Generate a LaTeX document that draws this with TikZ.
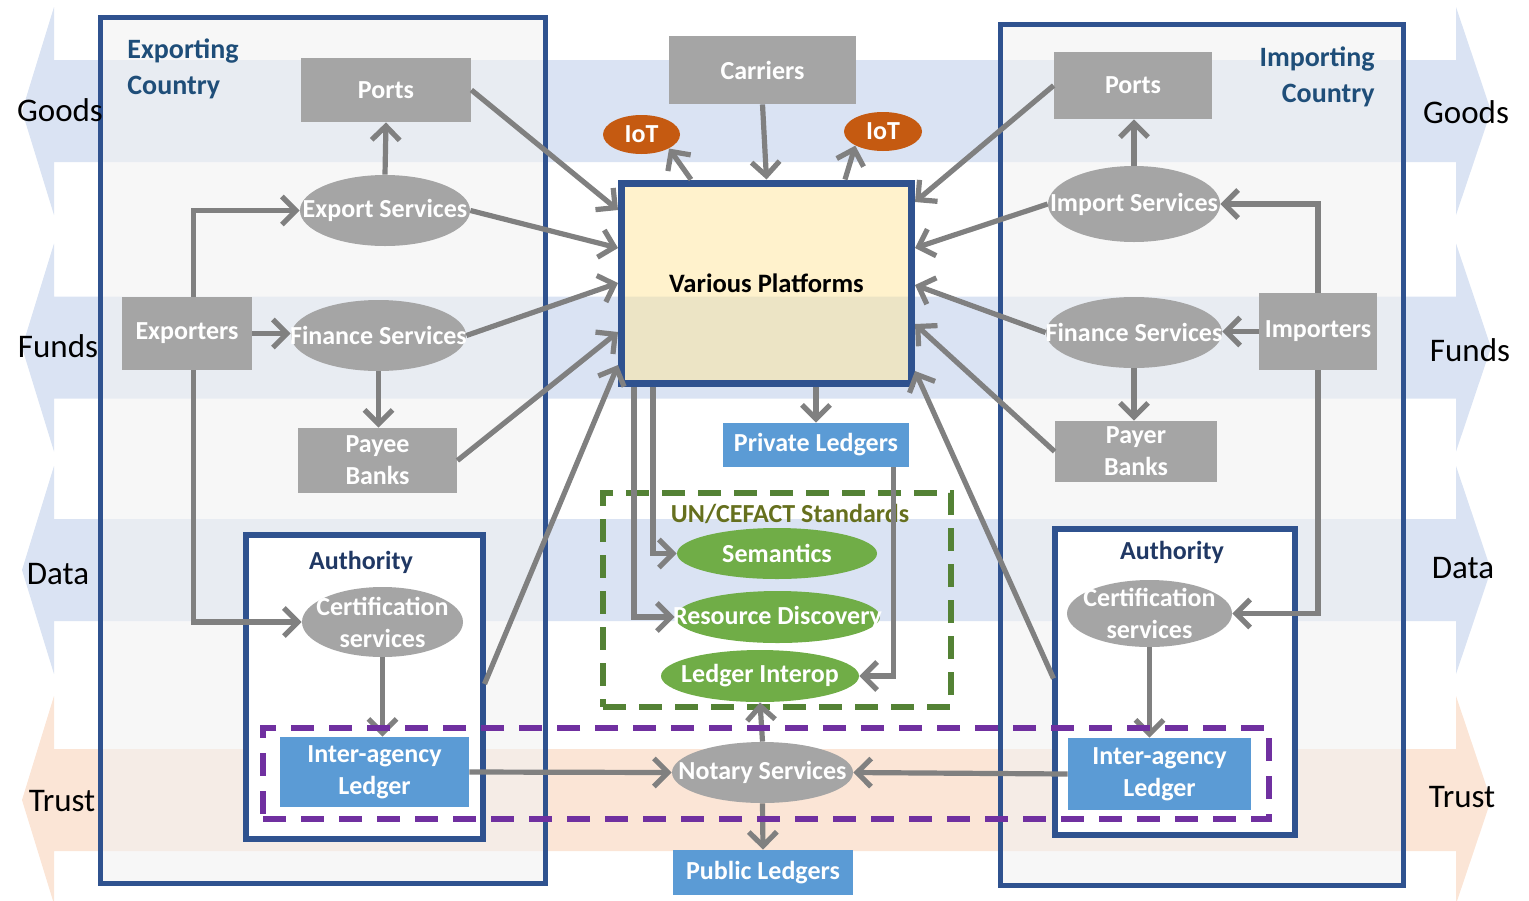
\documentclass[tikz,border=0pt]{standalone}
\usepackage{fontspec}
\setmainfont{Carlito}
\usetikzlibrary{arrows.meta,shapes.geometric,calc}
\definecolor{bandblue}{HTML}{DAE3F3}
\definecolor{bandpeach}{HTML}{FBE5D6}
\definecolor{boxblue}{HTML}{2F528F}
\definecolor{nodegray}{HTML}{A5A5A5}
\definecolor{arrgray}{HTML}{808080}
\definecolor{ledblue}{HTML}{5B9BD5}
\definecolor{stdgreen}{HTML}{70AD47}
\definecolor{dashgreen}{HTML}{548235}
\definecolor{dashpurple}{HTML}{7030A0}
\definecolor{iotorange}{HTML}{C55A11}
\definecolor{titleblue}{HTML}{1F4E79}
\definecolor{authblue}{HTML}{203864}
\definecolor{stdtext}{HTML}{66701E}
\definecolor{vpfill}{HTML}{FFE599}
\newcommand\bandarrow[2]{%
  \fill[#2] (54,#1-51) -- (54,#1-104) -- (22,#1) -- (54,#1+104) -- (54,#1+51)
    -- (1456,#1+51) -- (1456,#1+104) -- (1491,#1) -- (1456,#1-104) -- (1456,#1-51) -- cycle;}
\begin{document}
\begin{tikzpicture}[x=0.5pt,y=-0.5pt,
  wtxt/.style={text=white,font=\bfseries\fontsize{13}{16}\selectfont,align=center,inner sep=0pt},
  grect/.style={rectangle,fill=nodegray,wtxt},
  brect/.style={rectangle,fill=ledblue,wtxt},
  gell/.style={ellipse,fill=nodegray,inner sep=0pt},
  grell/.style={ellipse,fill=stdgreen,inner sep=0pt},
  oell/.style={ellipse,fill=iotorange,inner sep=0pt},
  country/.style={rectangle,draw=boxblue,line width=2.5pt,fill=black!5,fill opacity=0.6,inner sep=0pt},
  authbox/.style={rectangle,draw=boxblue,line width=3pt,fill=white,inner sep=0pt},
  side/.style={font=\fontsize{16.5}{20}\selectfont,inner sep=0pt},
  ctitle/.style={text=titleblue,font=\bfseries\fontsize{14}{18}\selectfont,inner sep=0pt},
  atitle/.style={text=authblue,font=\bfseries\fontsize{13}{16}\selectfont,inner sep=0pt},
  flow/.style={draw=arrgray,line width=2.6pt,-{Straight Barb[length=7pt,width=14pt]}},
  stdbox/.style={rectangle,draw=dashgreen,line width=2.75pt,dash pattern=on 11.5pt off 6.5pt,inner sep=0pt},
  trustbox/.style={rectangle,draw=dashpurple,line width=3pt,dash pattern=on 11.5pt off 7.5pt,inner sep=0pt}
]
\useasboundingbox (0,0) rectangle (1529,900);
% background bands
\bandarrow{111}{bandblue}
\bandarrow{347.5}{bandblue}
\bandarrow{570}{bandblue}
\bandarrow{800}{bandpeach}
% country boxes
\node[country,minimum width=222.5pt,minimum height=432.75pt] (expbox) at (323,450.25) {};
\node[country,minimum width=201.5pt,minimum height=430.5pt] (impbox) at (1202,455) {};
% side labels
\node[side] (gl) at (60,110) {Goods};
\node[side] (gr) at (1466,112) {Goods};
\node[side] (fl) at (58,346) {Funds};
\node[side] (fr) at (1470,350) {Funds};
\node[side] (dl) at (58,574) {Data};
\node[side] (dr) at (1463,568) {Data};
\node[side] (tl) at (62,801) {Trust};
\node[side] (tr) at (1462,797) {Trust};
% titles
\node[ctitle,anchor=west,align=left] (exptitle) at (127,69) {Exporting\\Country};
\node[ctitle,anchor=east,align=right] (imptitle) at (1375,77) {Importing\\Country};
% authority boxes
\node[authbox,minimum width=118.5pt,minimum height=151.75pt] (auth1) at (364,686.75) {};
\node[authbox,minimum width=120pt,minimum height=153.25pt] (auth2) at (1175,681.75) {};
\node[atitle] (a1t) at (361,562) {Authority};
\node[atitle] (a2t) at (1172,552) {Authority};
% standards box
\node[stdbox,minimum width=174pt,minimum height=107pt] (std) at (777,600) {};
\node[text=stdtext,font=\bfseries\fontsize{13}{16}\selectfont,inner sep=0pt] (stdt) at (790,514) {UN/CEFACT Standards};
% exporting nodes
\node[grect,minimum width=85pt,minimum height=32pt] (ports1) at (386,90) {Ports};
\node[gell,minimum width=85pt,minimum height=35.5pt] (es) at (385,210.5) {};
\node[wtxt] at (es) {Export Services};
\node[grect,minimum width=65pt,minimum height=36.5pt] (exporters) at (187,333.5) {Exporters};
\node[gell,minimum width=87.5pt,minimum height=35.5pt] (fin1) at (378.5,335.5) {};
\node[wtxt] at (fin1) {Finance Services};
\node[grect,minimum width=79.5pt,minimum height=32.5pt] (payee) at (377.5,460.5) {Payee\\Banks};
\node[gell,minimum width=80.5pt,minimum height=35pt] (cert1) at (382.5,622) {};
\node[wtxt] at (cert1) {Certification\\services};
\node[brect,minimum width=94.5pt,minimum height=35pt] (ial1) at (374.5,772) {Inter-agency\\Ledger};
% center nodes
\node[grect,minimum width=93.5pt,minimum height=34pt] (carriers) at (762.5,70) {Carriers};
\node[oell,minimum width=38.5pt,minimum height=19.5pt] (iot1) at (641.5,134.5) {};
\node[wtxt] at (iot1) {IoT};
\node[oell,minimum width=39pt,minimum height=19.5pt] (iot2) at (883,131.5) {};
\node[wtxt] at (iot2) {IoT};
\node[rectangle,draw=boxblue,line width=3.5pt,fill=vpfill,fill opacity=0.5,text opacity=1,
      font=\bfseries\fontsize{13.3}{16}\selectfont,minimum width=145pt,minimum height=100.25pt,inner sep=0pt] (vp) at (766.5,283.25) {Various Platforms};
\node[brect,minimum width=93pt,minimum height=22pt] (pl) at (816,445) {Private Ledgers};
\node[grell,minimum width=100pt,minimum height=25.5pt] (sem) at (777,553.5) {};
\node[wtxt] at (sem) {Semantics};
\node[grell,minimum width=102.5pt,minimum height=26pt] (rd) at (777.5,617) {};
\node[wtxt] at (rd) {Resource Discovery};
\node[grell,minimum width=99pt,minimum height=26pt] (li) at (760,676) {};
\node[wtxt] at (li) {Ledger Interop};
\node[gell,minimum width=90.5pt,minimum height=30.5pt] (notary) at (762.5,772.5) {};
\node[wtxt] at (notary) {Notary Services};
\node[brect,minimum width=90pt,minimum height=22.5pt] (pub) at (763,872.5) {Public Ledgers};
% importing nodes
\node[grect,minimum width=79pt,minimum height=33.5pt] (ports2) at (1133,85.5) {Ports};
\node[gell,minimum width=86pt,minimum height=38pt] (is) at (1134,204) {};
\node[wtxt] at (is) {Import Services};
\node[gell,minimum width=88pt,minimum height=35.5pt] (fin2) at (1134,332.5) {};
\node[wtxt] at (fin2) {Finance Services};
\node[grect,minimum width=59pt,minimum height=38.5pt] (importers) at (1318,331.5) {Importers};
\node[grect,minimum width=81pt,minimum height=30.5pt] (payer) at (1136,451.5) {Payer\\Banks};
\node[gell,minimum width=82.5pt,minimum height=33.5pt] (cert2) at (1149.5,613.5) {};
\node[wtxt] at (cert2) {Certification\\services};
\node[brect,minimum width=91.5pt,minimum height=36pt] (ial2) at (1159.5,774) {Inter-agency\\Ledger};
% arrows into platforms (left)
\draw[flow] (ports1.east) -- ($(vp.north west)+(0,30.5)$);
\draw[flow] (es.east) -- ($(vp.north west)+(0,68.5)$);
\draw[flow] (fin1.east) -- ($(vp.north west)+(0,103.5)$);
\draw[flow] (payee.east) -- ($(vp.north west)+(0,152.5)$);
\draw[flow] ($(auth1.north east)+(-1,152)$) -- ($(vp.north west)+(0,185.5)$);
% arrows into platforms (right)
\draw[flow] (ports2.west) -- ($(vp.north east)+(0,22.5)$);
\draw[flow] (is.west) -- ($(vp.north east)+(0,68.5)$);
\draw[flow] (fin2.west) -- ($(vp.north east)+(0,105.5)$);
\draw[flow] (payer.west) -- ($(vp.north east)+(0,144.5)$);
\draw[flow] ($(auth2.north west)+(1.5,153)$) -- ($(vp.north east)+(0,191.5)$);
% top
\draw[flow] (carriers.south) -- (vp.north);
\draw[flow] ($(vp.north west)+(73,0)$) -- (iot1.-27);
\draw[flow] ($(vp.north west)+(227,0)$) -- (iot2.-153);
% below platforms
\draw[flow] (pl.north |- vp.south) -- (pl.north);
\draw[flow] ($(vp.south west)+(35,0)$) |- (sem.west);
\draw[flow] ($(vp.south west)+(16,0)$) |- (rd.west);
\draw[flow] ($(pl.south east)+(-16,0)$) |- (li.east);
\draw[flow] (notary.north) -- (li.south);
\draw[flow] (notary.south) -- (pub.north);
\draw[flow] (ial1.east) -- (notary.west);
\draw[flow] (ial2.west) -- (notary.east);
% exporting internal
\draw[flow] (es.north) -- (ports1.south);
\draw[flow] ($(exporters.north)+(6.5,0)$) |- (es.west);
\draw[flow] (exporters.east) -- (exporters.east -| fin1.west);
\draw[flow] (fin1.south) -- (fin1.south |- payee.north);
\draw[flow] ($(exporters.south)+(6.5,0)$) |- (cert1.west);
\draw[flow] (cert1.south) -- (cert1.south |- ial1.north);
% importing internal
\draw[flow] (is.north) -- (is.north |- ports2.south);
\draw[flow] (importers.north) |- (is.east);
\draw[flow] (importers.west) -- (importers.west -| fin2.east);
\draw[flow] (fin2.south) -- (fin2.south |- payer.north);
\draw[flow] (importers.south) |- (cert2.east);
\draw[flow] (cert2.south) -- (cert2.south |- ial2.north);
% trust dashed box
\node[trustbox,minimum width=503pt,minimum height=45.5pt] (trust) at (766,773.5) {};
\end{tikzpicture}
\end{document}
